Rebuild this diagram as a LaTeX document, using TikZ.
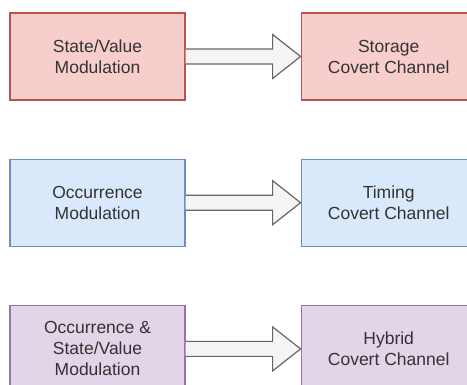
\documentclass[tikz,border=0pt]{standalone}
\usepackage{fontspec}
\setmainfont{Liberation Sans}
\usepackage{xcolor}
\usepackage{tikz}
\usetikzlibrary{positioning,calc}

\definecolor{redfill}{HTML}{F8CECC}
\definecolor{redline}{HTML}{B85450}
\definecolor{bluefill}{HTML}{DAE8FC}
\definecolor{blueline}{HTML}{6C8EBF}
\definecolor{purplefill}{HTML}{E1D5E7}
\definecolor{purpleline}{HTML}{9673A6}
\definecolor{arrowfill}{HTML}{F5F5F5}
\definecolor{arrowline}{HTML}{666666}
\definecolor{textgray}{HTML}{333333}

\tikzset{
    modbox/.style={draw, line width=1.2pt, minimum width=175pt, minimum height=87pt,
        align=center, text=textgray, font=\fontsize{17.5}{21}\selectfont},
    redbox/.style={modbox, fill=redfill, draw=redline},
    bluebox/.style={modbox, fill=bluefill, draw=blueline},
    purplebox/.style={modbox, fill=purplefill, draw=purpleline},
    blockarrow/.style={fill=arrowfill, draw=arrowline, line width=1.2pt, line join=miter}
}

\begin{document}
\begin{tikzpicture}[x=1pt, y=1pt, node distance=58pt and 115pt]
    \path[use as bounding box, clip] (0,0) rectangle (467,-385);

    % Storage
    \node[redbox] (statevalue) at (97.5,-56.5) {State/Value\\Modulation};
    \node[redbox, right=of statevalue] (storage) {Storage\\Covert Channel};

    % Timing
    \node[bluebox, below=of statevalue] (occurrence) {Occurrence\\Modulation};
    \node[bluebox, right=of occurrence] (timing) {Timing\\Covert Channel};

    % Hybrid
    \node[purplebox, below=of occurrence] (occstate) {Occurrence \&\\State/Value\\Modulation};
    \node[purplebox, right=of occstate] (hybrid) {Hybrid\\Covert Channel};

    % block arrows (left end open against the box)
    \draw[blockarrow] ($(statevalue.east)+(0,7.5)$) -- ($(storage.west)+(-28,7.5)$)
        -- ($(storage.west)+(-28,22)$) -- (storage.west) -- ($(storage.west)+(-28,-22)$)
        -- ($(storage.west)+(-28,-7.5)$) -- ($(statevalue.east)+(0,-7.5)$);
    \draw[blockarrow] ($(occurrence.east)+(0,7.5)$) -- ($(timing.west)+(-28,7.5)$)
        -- ($(timing.west)+(-28,22)$) -- (timing.west) -- ($(timing.west)+(-28,-22)$)
        -- ($(timing.west)+(-28,-7.5)$) -- ($(occurrence.east)+(0,-7.5)$);
    \draw[blockarrow] ($(occstate.east)+(0,7.5)$) -- ($(hybrid.west)+(-28,7.5)$)
        -- ($(hybrid.west)+(-28,22)$) -- (hybrid.west) -- ($(hybrid.west)+(-28,-22)$)
        -- ($(hybrid.west)+(-28,-7.5)$) -- ($(occstate.east)+(0,-7.5)$);
\end{tikzpicture}
\end{document}
